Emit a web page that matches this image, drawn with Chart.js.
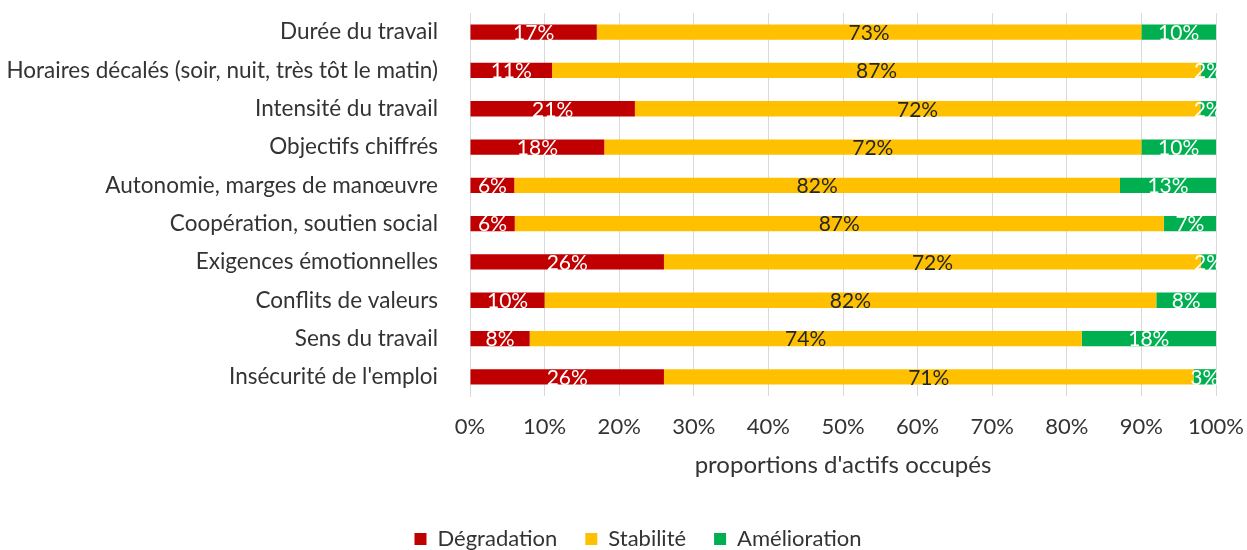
<!DOCTYPE html>
<html lang="fr">
<head>
<meta charset="utf-8">
<title>Évolution des conditions de travail</title>
<script src="https://cdn.jsdelivr.net/npm/chart.js@4/dist/chart.umd.min.js"></script>
<style>
	html, body { margin:0; padding:0; background:#fff; }
	#wrap { width:1247px; height:550px; }
</style>
</head>
<body>
<div id="wrap"><canvas id="chart" width="1247" height="550"></canvas></div>
<script>
// Données (en % d'actifs occupés)
const categories = [
	'Durée du travail',
	'Horaires décalés (soir, nuit, très tôt le matin)',
	'Intensité du travail',
	'Objectifs chiffrés',
	'Autonomie, marges de manœuvre',
	'Coopération, soutien social',
	'Exigences émotionnelles',
	'Conflits de valeurs',
	'Sens du travail',
	"Insécurité de l'emploi"
];
const degradation  = [17, 11, 21, 18, 6, 6, 26, 10, 8, 26];
const stabilite    = [73, 87, 72, 72, 82, 87, 72, 82, 74, 71];
const amelioration = [10, 2, 2, 10, 13, 7, 2, 8, 18, 3];
const xTicks = [0, 10, 20, 30, 40, 50, 60, 70, 80, 90, 100];

(function(){
	const FONT = 'Lato, "Open Sans", sans-serif';
	const TEXT = '#333333';

	// barres empilées à 100 % : chaque ligne est ramenée à son total
	const totals = categories.map((_, i) => degradation[i] + stabilite[i] + amelioration[i]);
	const share = arr => arr.map((v, i) => v / totals[i] * 100);

	const series = [
		{ label:'Dégradation', raw: degradation, color:'#C00000', text:'#ffffff' },
		{ label:'Stabilité', raw: stabilite, color:'#FFC000', text:'#262626' },
		{ label:'Amélioration', raw: amelioration, color:'#00B050', text:'#ffffff' }
	];

	// étiquettes de valeur au centre de chaque segment
	const valueLabels = {
		id: 'valueLabels',
		afterDatasetsDraw(chart){
			const ctx = chart.ctx;
			ctx.save();
			ctx.font = '21px ' + FONT;
			ctx.textAlign = 'center';
			ctx.textBaseline = 'middle';
			chart.data.datasets.forEach((ds, di) => {
				const meta = chart.getDatasetMeta(di);
				meta.data.forEach((bar, i) => {
					const x = (bar.x + bar.base) / 2;
					ctx.fillStyle = series[di].text;
					ctx.fillText(series[di].raw[i] + '%', x, bar.y + 1);
				});
			});
			ctx.restore();
		}
	};

	// la légende d'origine est un peu décalée vers la droite
	const LEGEND_SHIFT = 30;
	const shiftLegend = {
		id: 'shiftLegend',
		afterLayout(chart){
			chart.legend.left += LEGEND_SHIFT;
			chart.legend.right += LEGEND_SHIFT;
		}
	};

	// pas de marge automatique liée aux étiquettes : la mise en page est fixée par layout.padding
	function noAutoPadding(scale){
		scale.paddingTop = 0;
		scale.paddingBottom = 0;
		scale.paddingLeft = 0;
		scale.paddingRight = 0;
	}

	new Chart(document.getElementById('chart'), {
		type: 'bar',
		data: {
			labels: categories,
			datasets: series.map(s => ({
				label: s.label,
				data: share(s.raw),
				backgroundColor: s.color,
				borderWidth: 0,
				barPercentage: 0.4,
				categoryPercentage: 1
			}))
		},
		options: {
			indexAxis: 'y',
			responsive: false,
			animation: false,
			layout: { padding: { top: 13, left: 0, right: 31, bottom: -10 } },
			plugins: {
				legend: {
					position: 'bottom',
					labels: {
						font: { family: FONT, size: 22 },
						color: TEXT,
						boxWidth: 12,
						boxHeight: 12,
						padding: 28
					}
				},
				tooltip: { enabled: false }
			},
			scales: {
				x: {
					stacked: true,
					min: 0,
					max: 100,
					afterBuildTicks(scale){ scale.ticks = xTicks.map(v => ({ value: v })); },
					afterFit(scale){ scale.height = 104; noAutoPadding(scale); },
					grid: { color:'#D9D9D9', lineWidth: 1, drawTicks: false },
					border: { display: false },
					ticks: {
						padding: 18,
						color: TEXT,
						font: { family: FONT, size: 22 },
						callback: v => v + '%'
					},
					title: {
						display: true,
						text: "proportions d'actifs occupés",
						color: TEXT,
						font: { family: FONT, size: 24 },
						padding: { top: 0, bottom: 20 }
					}
				},
				y: {
					stacked: true,
					afterFit(scale){ scale.width = 470; noAutoPadding(scale); },
					grid: { display: false },
					border: { display: true, color:'#D9D9D9' },
					ticks: {
						padding: 24,
						color: TEXT,
						font: { family: FONT, size: 22.5 }
					}
				}
			}
		},
		plugins: [valueLabels, shiftLegend]
	});
})();
</script>
</body>
</html>
